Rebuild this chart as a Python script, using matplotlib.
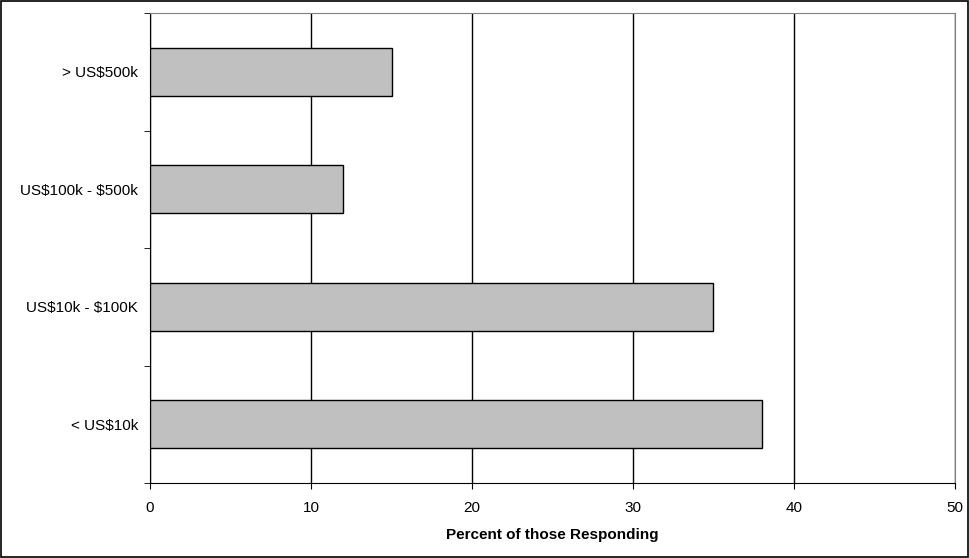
import matplotlib
matplotlib.use("Agg")
import matplotlib.pyplot as plt
from matplotlib.patches import Rectangle

# donnees
categories = ['< US$10k', 'US$10k - $100K', 'US$100k - $500k', '> US$500k']
valeurs = [38, 35, 12, 15]
x_ticks = [0, 10, 20, 30, 40, 50]

plt.rcParams['font.family'] = ['Liberation Sans', 'DejaVu Sans']
plt.rcParams['text.parse_math'] = False  # les $ restent du texte

fig = plt.figure(figsize=(9.7, 5.58), dpi=100)
ax = fig.add_axes([150/970, 1 - 483/558, 805/970, 470/558])

positions = list(range(len(categories)))
ax.barh(positions, valeurs, height=0.41, color='#c0c0c0', edgecolor='black', linewidth=1, zorder=3)

ax.set_xlim(0, 50)
ax.set_ylim(-0.5, len(categories) - 0.5)
ax.set_xticks(x_ticks)
ax.set_xticklabels([str(t) for t in x_ticks], fontsize=11)

# etiquettes au centre, graduations aux limites des categories
ax.set_yticks(positions)
ax.set_yticklabels(categories, fontsize=11)
ax.set_yticks([p - 0.5 for p in positions] + [len(categories) - 0.5], minor=True)
ax.tick_params(axis='y', which='major', length=0, pad=8.5)
ax.tick_params(axis='y', which='minor', length=4, direction='out', color='black')
ax.tick_params(axis='x', length=4, direction='out', pad=9)

ax.grid(axis='x', color='black', linewidth=1, zorder=0)
ax.set_axisbelow(True)

ax.spines['left'].set_color('black')
ax.spines['bottom'].set_color('black')
ax.spines['top'].set_color('#808080')
ax.spines['right'].set_color('#808080')

ax.set_xlabel('Percent of those Responding', fontsize=11, fontweight='bold', labelpad=9.5)

# cadre autour de la figure
fig.patches.append(Rectangle((0.001, 0.002), 0.997, 0.996, transform=fig.transFigure,
                             fill=False, edgecolor='black', linewidth=1.2))

fig.savefig('out.png', dpi=100)
